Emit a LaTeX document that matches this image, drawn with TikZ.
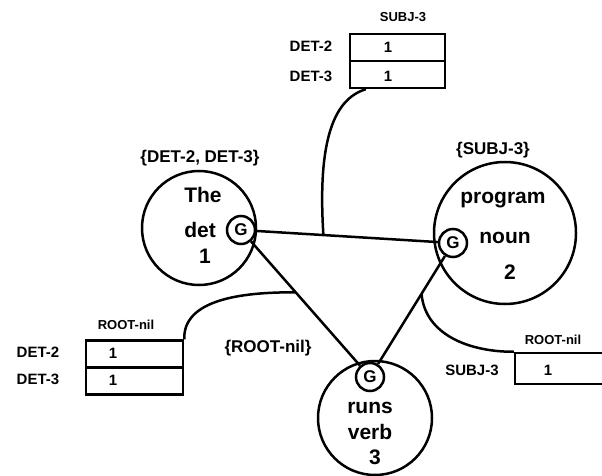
\documentclass[tikz,border=0pt]{standalone}
\usepackage{fontspec}
\setmainfont{Liberation Sans}
\begin{document}
\begin{tikzpicture}[x=1pt,y=-1pt,line width=2.5pt,
  word/.style={circle,draw,inner sep=0pt},
  gov/.style={circle,draw,inner sep=0pt,minimum size=28pt,font=\bfseries\fontsize{17}{17}\selectfont},
  big/.style={inner sep=0pt,font=\bfseries\fontsize{21}{21}\selectfont},
  lab/.style={inner sep=0pt,font=\bfseries\fontsize{15}{15}\selectfont},
  setlab/.style={inner sep=0pt,font=\bfseries\fontsize{17}{17}\selectfont},
  tiny/.style={inner sep=0pt,font=\bfseries\fontsize{13}{13}\selectfont},
  cell/.style={draw,inner sep=0pt,minimum height=27pt}]
\useasboundingbox (0,0) rectangle (602,476);
\begin{scope}
\clip (0,0) rectangle (602,476);
% word circles
\node[word,minimum size=114pt] (w1) at (199,228) {};
\node[word,minimum size=142pt] (w2) at (505,233) {};
\node[word,minimum size=114pt] (w3) at (375,418) {};
\node[gov] (g1) at (241,230) {G};
\node[gov] (g2) at (453,243) {G};
\node[gov] (g3) at (370,377) {G};
% words
\node[big] (t1a) at (203,195) {The};
\node[big] (t1b) at (200,230) {det};
\node[big] (t1c) at (205,256) {1};
\node[big] (t2a) at (503,200) {program};
\node[big] (t2b) at (505,238) {noun};
\node[big] (t2c) at (510,272) {2};
\node[big] (t3a) at (370,408) {runs};
\node[big] (t3b) at (370,432) {verb};
\node[big] (t3c) at (375,457) {3};
% set labels
\node[setlab] (s1) at (200,158) {\{DET-2, DET-3\}};
\node[setlab] (s2) at (493,150) {\{SUBJ-3\}};
\node[setlab] (s3) at (268,348) {\{ROOT-nil\}};
% triangle
\draw (g1) -- (g2);
\draw (g1) -- (g3);
\draw (g2) -- (g3);
\path (g1) -- (g2) coordinate[pos=0.37] (m12);
\path (g1) -- (g3) coordinate[pos=0.41] (m13);
\path (g2) -- (g3) coordinate[pos=0.35] (m23);
% top box
\node[tiny] (tb) at (403,17) {SUBJ-3};
\node[cell,minimum width=95pt] (c1) at (397.5,47.5) {};
\node[cell,minimum width=95pt] (c2) at (397.5,74.5) {};
\node[lab] (c1l) at (311,46) {DET-2};
\node[lab] (c2l) at (311,76) {DET-3};
\node[lab] (c1v) at (388,47) {1};
\node[lab] (c2v) at (388,76) {1};
% left box
\node[tiny] (lb) at (126,325) {ROOT-nil};
\node[cell,minimum width=97pt] (d1) at (134.5,354) {};
\node[cell,minimum width=97pt] (d2) at (134.5,381) {};
\node[lab] (d1l) at (38,352) {DET-2};
\node[lab] (d2l) at (38,379) {DET-3};
\node[lab] (d1v) at (113,353) {1};
\node[lab] (d2v) at (113,380) {1};
% right box
\node[tiny] (rb) at (553,340) {ROOT-nil};
\node[cell,minimum width=130pt,minimum height=31pt] (e1) at (580,368.5) {};
\node[lab] (e1l) at (472,370) {SUBJ-3};
\node[lab] (e1v) at (548,370) {1};
% curves
\draw ([xshift=17pt]c2.south west) .. controls (330,100) and (318,150) .. (m12);
\draw (d1.north east) .. controls (183,300) and (240,292) .. (m13);
\draw (m23) .. controls (425,335) and (470,352) .. (e1.north west);
\end{scope}
\end{tikzpicture}
\end{document}
